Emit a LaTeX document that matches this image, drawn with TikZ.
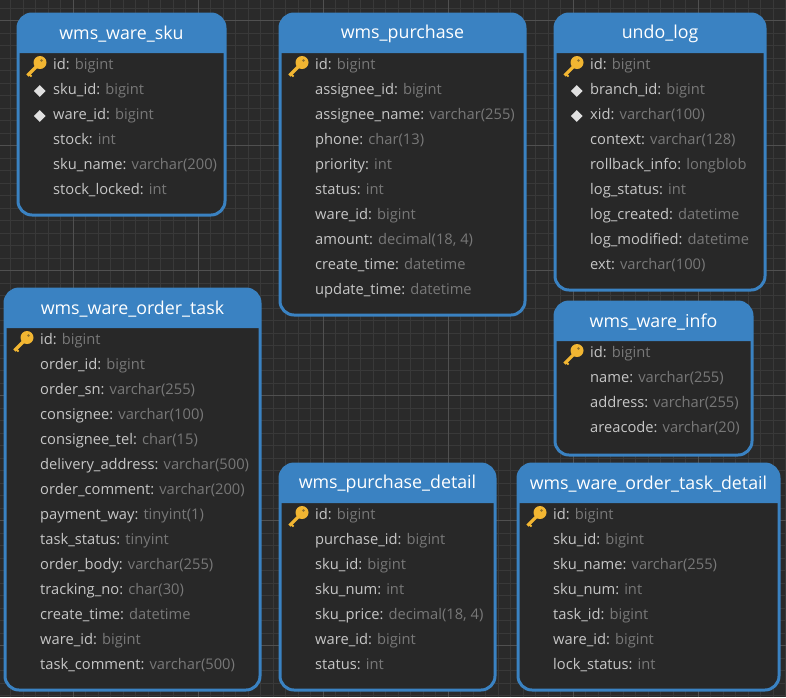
\documentclass[tikz,border=0pt]{standalone}
\usepackage{fontspec}
\setmainfont{Open Sans}
\usetikzlibrary{positioning,shapes.geometric}

\definecolor{canvasbg}{HTML}{2A2A2A}
\definecolor{gridminor}{HTML}{393939}
\definecolor{gridmajor}{HTML}{505050}
\definecolor{tableblue}{HTML}{3A82C2}
\definecolor{tablebody}{HTML}{282828}
\definecolor{fieldname}{HTML}{C6C6C6}
\definecolor{fieldtype}{HTML}{787878}
\definecolor{keygold}{HTML}{F2B632}

\tikzset{
    tablebox/.style={draw=tableblue, fill=tablebody, line width=3pt, rounded corners=14pt,
        anchor=north west, outer sep=0pt, inner sep=0pt},
    tabletitle/.style={text=white, font=\fontsize{17.8}{20}\selectfont, inner sep=0pt},
    fieldrow/.style={anchor=west, inner sep=0pt, text height=11pt, text depth=4pt,
        text=fieldname, font=\fontsize{14.7}{16}\selectfont},
    idxmark/.style={diamond, fill=white!88!black, inner sep=0pt, minimum width=12pt, minimum height=12pt},
}

% one table: name, x, y, width, height, title, rows
\newcommand{\dbtable}[7]{
    \begin{scope}[shift={(#2,#3)}]
        \node[tablebox, minimum width=#4pt, minimum height=#5pt] (#1) at (0,0) {};
        \fill[tableblue] (#1.west |- 0,39) [rounded corners=14pt] -- (#1.north west) -- (#1.north east)
            [sharp corners] -- (#1.east |- 0,39) -- cycle;
        \node[tabletitle] (#1-title) at (#4/2,20) {#6};
        \foreach \fname/\ftype [count=\i] in {#7} {
            \node[fieldrow] (#1-\i) at (35,{27+25*\i}) {\fname: \textcolor{fieldtype}{\ftype}};
        }
        % key on the first row
        \begin{scope}[shift={(18.5,52)}]
            \draw[keygold, line width=3.2pt] (-9,9.5) -- (1,-0.5);
            \draw[keygold, line width=2pt] (-7.5,8) -- (-5,10.5);
            \fill[keygold] (3.5,-3.5) circle (6.5pt);
            \fill[tablebody!50!keygold] (5,-5.5) circle (1.3pt);
        \end{scope}
    \end{scope}
}

\begin{document}
\begin{tikzpicture}[x=1pt, y=-1pt]
    \useasboundingbox (0,0) rectangle (786,697);
    \fill[canvasbg] (0,0) rectangle (786,697);

    % grid
    \foreach \k in {0,...,62} {
        \draw[gridminor, line width=1pt] ({10.83+12.5*\k},0) -- ({10.83+12.5*\k},697);
    }
    \foreach \k in {0,...,55} {
        \draw[gridminor, line width=1pt] (0,{8.33+12.5*\k}) -- (786,{8.33+12.5*\k});
    }
    \foreach \k in {0,...,5} {
        \draw[gridmajor, line width=1pt] ({73.33+125*\k},0) -- ({73.33+125*\k},697);
        \draw[gridmajor, line width=1pt] (0,{20.83+125*\k}) -- (786,{20.83+125*\k});
    }

    \dbtable{sku}{18}{14}{207}{201}{wms\_ware\_sku}{
        id/bigint, sku\_id/bigint, ware\_id/bigint, stock/int,
        sku\_name/varchar(200), stock\_locked/int}
    \foreach \i in {2,3} \node[idxmark, left=7pt of sku-\i] (sku-mark\i) {};

    \dbtable{purchase}{280}{14}{245}{301}{wms\_purchase}{
        id/bigint, assignee\_id/bigint, assignee\_name/varchar(255), phone/char(13),
        priority/int, status/int, ware\_id/bigint, amount/{decimal(18, 4)},
        create\_time/datetime, update\_time/datetime}

    \dbtable{undo}{555}{14}{210}{276}{undo\_log}{
        id/bigint, branch\_id/bigint, xid/varchar(100), context/varchar(128),
        rollback\_info/longblob, log\_status/int, log\_created/datetime,
        log\_modified/datetime, ext/varchar(100)}
    \foreach \i in {2,3} \node[idxmark, left=7pt of undo-\i] (undo-mark\i) {};

    \dbtable{task}{5}{289}{255}{401}{wms\_ware\_order\_task}{
        id/bigint, order\_id/bigint, order\_sn/varchar(255), consignee/varchar(100),
        consignee\_tel/char(15), delivery\_address/varchar(500), order\_comment/varchar(200),
        payment\_way/tinyint(1), task\_status/tinyint, order\_body/varchar(255),
        tracking\_no/char(30), create\_time/datetime, ware\_id/bigint,
        task\_comment/varchar(500)}

    \dbtable{info}{555}{302}{197}{153}{wms\_ware\_info}{
        id/bigint, name/varchar(255), address/varchar(255), areacode/varchar(20)}

    \dbtable{detail}{280}{464}{215}{226}{wms\_purchase\_detail}{
        id/bigint, purchase\_id/bigint, sku\_id/bigint, sku\_num/int,
        sku\_price/{decimal(18, 4)}, ware\_id/bigint, status/int}

    \dbtable{taskdetail}{518}{464}{261}{226}{wms\_ware\_order\_task\_detail}{
        id/bigint, sku\_id/bigint, sku\_name/varchar(255), sku\_num/int,
        task\_id/bigint, ware\_id/bigint, lock\_status/int}
\end{tikzpicture}
\end{document}
